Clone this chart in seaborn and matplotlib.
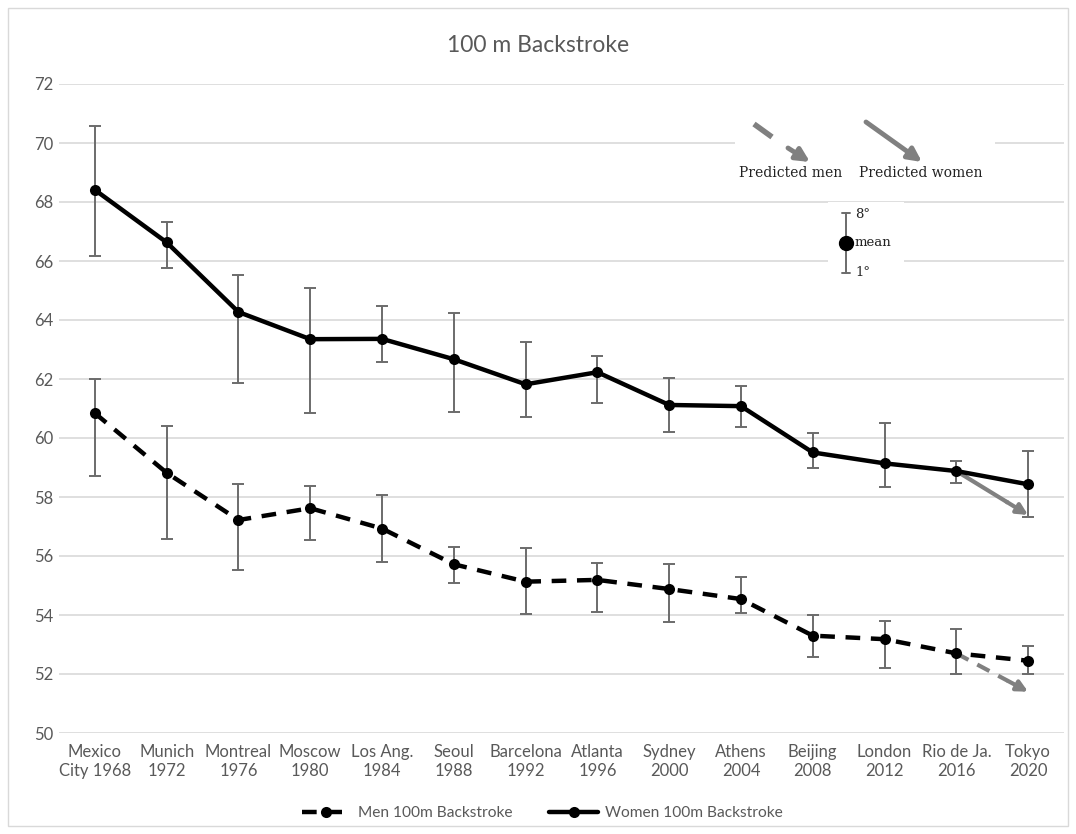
import numpy as np
import pandas as pd
import matplotlib
matplotlib.use('Agg')
import matplotlib.pyplot as plt
from matplotlib.patches import Rectangle, FancyArrowPatch
from matplotlib.lines import Line2D
import seaborn as sns

# data
cities = ['Mexico\nCity 1968', 'Munich\n1972', 'Montreal\n1976', 'Moscow\n1980',
          'Los Ang.\n1984', 'Seoul\n1988', 'Barcelona\n1992', 'Atlanta\n1996',
          'Sydney\n2000', 'Athens\n2004', 'Beijing\n2008', 'London\n2012',
          'Rio de Ja.\n2016', 'Tokyo\n2020']
women_mean = [68.41, 66.63, 64.27, 63.35, 63.36, 62.67, 61.82, 62.23, 61.12, 61.08, 59.51, 59.14, 58.88, 58.43]
women_8th = [70.58, 67.33, 65.53, 65.07, 64.49, 64.23, 63.25, 62.78, 62.02, 61.76, 60.17, 60.52, 59.23, 59.56]
women_1st = [66.17, 65.77, 61.85, 60.86, 62.57, 60.88, 60.70, 61.20, 60.21, 60.38, 58.97, 58.35, 58.47, 57.33]
men_mean = [60.84, 58.82, 57.22, 57.62, 56.93, 55.72, 55.13, 55.19, 54.88, 54.54, 53.30, 53.18, 52.70, 52.45]
men_8th = [62.01, 60.42, 58.43, 58.36, 58.06, 56.31, 56.26, 55.75, 55.73, 55.29, 54.00, 53.80, 53.53, 52.95]
men_1st = [58.72, 56.56, 55.51, 56.53, 55.79, 55.07, 54.02, 54.11, 53.77, 54.08, 52.57, 52.19, 52.00, 52.00]
# predicted Tokyo 2020 (from Rio)
pred_women = [58.88, 57.39]
pred_men = [52.70, 51.40]

MEN = 'Men 100m Backstroke'
WOMEN = 'Women 100m Backstroke'

pos = np.arange(len(cities))
df = pd.concat([
    pd.DataFrame({'pos': pos, 'time': men_mean, 'event': MEN}),
    pd.DataFrame({'pos': pos, 'time': women_mean, 'event': WOMEN}),
])

sns.set_style('white')
plt.rcParams['font.family'] = ['Lato', 'DejaVu Sans']
txt = '#595959'
grid = '#d9d9d9'
errc = '#6b6b6b'
predc = '#808080'

fig = plt.figure(figsize=(10.76, 8.34), dpi=100)
ax = fig.add_axes([59/1076, 101/834, 1005/1076, 649/834])

# error bars: 1st place to 8th place
for mean, lo, hi in [(women_mean, women_1st, women_8th), (men_mean, men_1st, men_8th)]:
    mean = np.array(mean)
    yerr = [mean - np.array(lo), np.array(hi) - mean]
    ax.errorbar(pos, mean, yerr=yerr, fmt='none', ecolor=errc, elinewidth=1.4,
                capsize=4.5, capthick=1.4, zorder=2)

sns.lineplot(data=df, x='pos', y='time', hue='event', style='event',
             palette={MEN: 'black', WOMEN: 'black'},
             dashes={MEN: (3.3, 2.4), WOMEN: ''},
             markers={MEN: 'o', WOMEN: 'o'}, markersize=8, markeredgewidth=0,
             linewidth=3.2, ax=ax, zorder=3)

# predicted arrows (Rio -> Tokyo)
def seg(p, f):
    return p[0] + f * (p[1] - p[0])

ax.plot([pos[-2], pos[-2] + 0.72], [pred_women[0], seg(pred_women, 0.72)],
        color=predc, lw=3, solid_capstyle='butt', zorder=2.5)
ax.annotate('', xy=(pos[-1], pred_women[1]), xytext=(pos[-2] + 0.7, seg(pred_women, 0.7)),
            arrowprops=dict(arrowstyle='-|>', color=predc, lw=3, mutation_scale=16, shrinkA=0, shrinkB=0),
            zorder=2.5)
ax.plot([pos[-2], pos[-2] + 0.72], [pred_men[0], seg(pred_men, 0.72)],
        color=predc, lw=3, ls=(0, (3.3, 2.4)), zorder=2.5)
ax.annotate('', xy=(pos[-1], pred_men[1]), xytext=(pos[-2] + 0.72, seg(pred_men, 0.72)),
            arrowprops=dict(arrowstyle='-|>', color=predc, lw=3, mutation_scale=16, shrinkA=0, shrinkB=0),
            zorder=2.5)

ax.set_xlim(-0.5, len(cities) - 0.5)
ax.set_ylim(50, 72)
ax.set_yticks(np.arange(50, 73, 2))
ax.set_xticks(pos)
ax.set_xticklabels(cities, linespacing=1.2)
ax.tick_params(axis='both', length=0, labelsize=12, labelcolor=txt)
ax.tick_params(axis='x', pad=8)
ax.tick_params(axis='y', pad=4)
ax.yaxis.grid(True, color=grid, lw=1.2)
ax.set_axisbelow(True)
for s in ax.spines.values():
    s.set_visible(False)
ax.set_xlabel('')
ax.set_ylabel('')

sns.move_legend(ax, 'center', bbox_to_anchor=(0.481, -0.1235), ncol=2, frameon=False,
                title=None, fontsize=11.2, handlelength=3.1, columnspacing=2.4, handletextpad=0.5)
for t in ax.get_legend().get_texts():
    t.set_color(txt)

fig.text(0.5, 1 - 45/834, '100 m Backstroke', ha='center', va='center', fontsize=16.5, color=txt)

# inserted key image
def fx(px):
    return px / 1076

def fy(py):
    return 1 - py / 834

fig.patches.append(Rectangle((fx(735), fy(182)), fx(260), 72/834, transform=fig.transFigure,
                             fc='white', ec='none', zorder=5))
fig.patches.append(Rectangle((fx(828), fy(282)), fx(76), 80/834, transform=fig.transFigure,
                             fc='white', ec='none', zorder=5))
fig.lines.append(Line2D([fx(754), fx(772)], [fy(124), fy(137)], transform=fig.transFigure,
                        color=predc, lw=4, solid_capstyle='butt', zorder=6))
fig.add_artist(FancyArrowPatch((fx(788), fy(148)), (fx(810), fy(162)),
               transform=fig.transFigure, arrowstyle='-|>', color=predc, lw=3.5,
               mutation_scale=20, shrinkA=0, shrinkB=0, zorder=6))
fig.add_artist(FancyArrowPatch((fx(866), fy(122)), (fx(922), fy(162)),
               transform=fig.transFigure, arrowstyle='-|>', color=predc, lw=3.5,
               mutation_scale=20, shrinkA=0, shrinkB=0, zorder=6))
serif = ['DejaVu Serif']
fig.text(fx(791), fy(173), 'Predicted men', ha='center', va='center', fontsize=10,
         family=serif, color='#222222', zorder=7)
fig.text(fx(921), fy(173), 'Predicted women', ha='center', va='center', fontsize=10,
         family=serif, color='#222222', zorder=7)
fig.lines.append(Line2D([fx(846), fx(846)], [fy(213), fy(273)], transform=fig.transFigure,
                        color=errc, lw=1.4, zorder=6))
for py in (213, 273):
    fig.lines.append(Line2D([fx(842), fx(850)], [fy(py), fy(py)], transform=fig.transFigure,
                            color=errc, lw=1.4, zorder=6))
fig.lines.append(Line2D([fx(846)], [fy(243)], transform=fig.transFigure, marker='o',
                        markersize=10, color='black', zorder=7))
for py, s in [(214, '8°'), (243, 'mean'), (272, '1°')]:
    fig.text(fx(855), fy(py), s, ha='left', va='center', fontsize=9.5, family=serif,
             color='#222222', zorder=7)

# outer chart border
fig.patches.append(Rectangle((fx(8), fy(826)), fx(1060), 818/834, transform=fig.transFigure,
                             fill=False, ec=grid, lw=1, zorder=0))

fig.savefig('out.png', dpi=100)
